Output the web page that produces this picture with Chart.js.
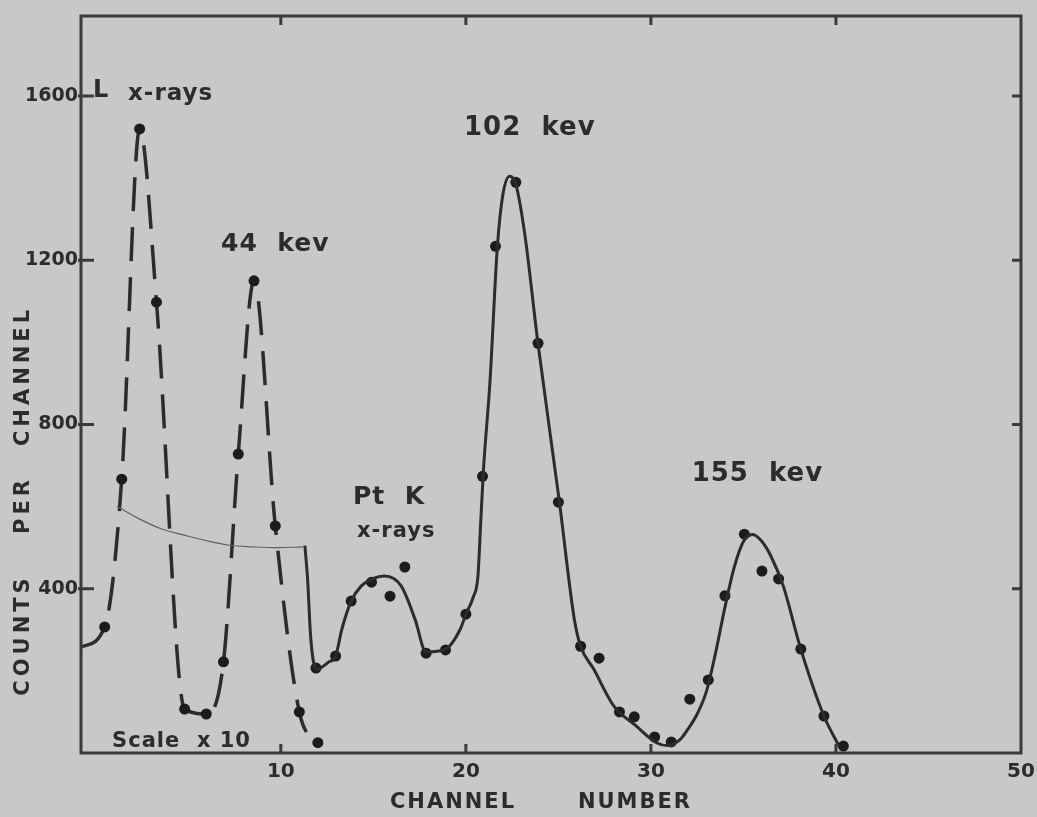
<!DOCTYPE html>
<html>
<head>
<meta charset="utf-8">
<script src="https://cdn.jsdelivr.net/npm/chart.js@4"></script>
<style>
html,body{margin:0;padding:0;background:#c8c8c8;overflow:hidden;}
canvas{display:block;}
</style>
</head>
<body>
<canvas id="c" width="1037" height="817"></canvas>
<script>
// ---------- data ----------
const channelTicks = [10, 20, 30, 40, 50];
const countTicks = [400, 800, 1200, 1600];

// L x-rays / 44 kev region (scale x 10), dashed curve through measured points
const lowX = [-0.8, 0.48, 1.4, 2.37, 3.28, 4.8, 5.97, 6.9, 7.7, 8.55, 9.7, 11.0, 12.0];
const lowY = [258, 307, 667, 1520, 1098, 107, 95, 222, 728, 1150, 553, 100, 25];

// thin background line under the scaled region
const bgX = [1.15, 2.4, 3.6, 5.0, 6.2, 7.2, 8.5, 9.9, 11.2];
const bgY = [601, 569, 545, 528, 515, 506, 502, 500, 502];

// smooth fitted curve (unscaled)
const fitX = [11.3, 11.45, 11.6, 11.75, 11.94, 12.6, 12.96, 13.3, 13.8, 14.35, 15.0, 15.6, 16.5, 17.25, 17.85, 18.9, 19.7, 20.0, 20.4, 20.65, 20.8, 20.95, 21.3, 21.7, 22.0, 22.37, 22.7, 23.17, 23.9, 25.05, 25.86, 26.2, 26.9, 28.0, 29.2, 30.3, 30.9, 31.6, 32.0, 32.5, 33.0, 33.5, 34.0, 34.5, 35.0, 35.5, 36.0, 36.5, 37.15, 38.1, 39.35, 40.16];
const fitY = [505, 420, 290, 225, 204, 222, 236, 302, 370, 407, 425, 431, 407, 326, 246, 253, 302, 338, 380, 430, 560, 690, 903, 1232, 1360, 1405, 1385, 1268, 996, 613, 326, 260, 205, 114, 66, 25, 18, 34, 58, 95, 150, 245, 355, 452, 515, 532, 515, 478, 407, 253, 90, 17];

// measured counts per channel (unscaled)
const ptX = [11.9, 12.96, 13.8, 14.9, 15.9, 16.7, 17.85, 18.9, 20.0, 20.9, 21.6, 22.7, 23.9, 25.0, 26.2, 27.2, 28.3, 29.1, 30.2, 31.1, 32.1, 33.1, 34.0, 35.05, 36.0, 36.9, 38.1, 39.35, 40.4];
const ptY = [207, 236, 370, 416, 382, 453, 243, 251, 338, 674, 1234, 1390, 998, 611, 260, 231, 100, 88, 39, 27, 131, 178, 383, 533, 443, 424, 253, 90, 17];

// text annotations (data coordinates: left edge, baseline)
const notes = [
  {t: 'L', x: -0.15, y: 1598, s: 24},
  {t: 'x-rays', x: 1.74, y: 1590, s: 23},
  {t: '44  kev', x: 6.77, y: 1223, s: 25},
  {t: '102  kev', x: 19.9, y: 1505, s: 26},
  {t: 'Pt  K', x: 13.9, y: 606, s: 25},
  {t: 'x-rays', x: 14.12, y: 526, s: 21},
  {t: '155  kev', x: 32.2, y: 662, s: 26},
  {t: 'Scale  x 10', x: 0.88, y: 15, s: 21}
];

// ---------- styles ----------
const BG = '#c8c8c8';
const INK = '#2c2c2c';
const FONT = "'DejaVu Sans', 'Liberation Sans', sans-serif";

const zip = (xs, ys) => xs.map((x, i) => ({x: x, y: ys[i]}));

const paperPlugin = {
  id: 'paper',
  beforeDraw(chart) {
    const c = chart.ctx;
    c.save();
    c.fillStyle = BG;
    c.fillRect(0, 0, chart.width, chart.height);
    c.restore();
  },
  afterDraw(chart) {
    const c = chart.ctx;
    const a = chart.chartArea;
    const xs = chart.scales.x, ys = chart.scales.y;
    c.save();
    // frame
    c.strokeStyle = '#3a3a3a';
    c.lineWidth = 3;
    c.strokeRect(a.left, a.top, a.right - a.left, a.bottom - a.top);
    // inward ticks
    c.beginPath();
    channelTicks.forEach(v => {
      const px = xs.getPixelForValue(v);
      if (px < a.right - 4) {
        c.moveTo(px, a.bottom); c.lineTo(px, a.bottom - 9);
        c.moveTo(px, a.top); c.lineTo(px, a.top + 9);
      }
    });
    countTicks.forEach(v => {
      const py = ys.getPixelForValue(v);
      c.moveTo(a.left - 3, py); c.lineTo(a.left + 13, py);
      c.moveTo(a.right, py); c.lineTo(a.right - 9, py);
    });
    c.stroke();

    // annotations
    c.fillStyle = INK;
    c.textBaseline = 'alphabetic';
    c.textAlign = 'left';
    notes.forEach(n => {
      c.font = 'bold ' + n.s + 'px ' + FONT;
      c.letterSpacing = '1px';
      c.fillText(n.t, xs.getPixelForValue(n.x), ys.getPixelForValue(n.y));
    });

    // x axis title
    c.font = 'bold 21px ' + FONT;
    c.letterSpacing = '2px';
    c.textBaseline = 'middle';
    c.textAlign = 'center';
    c.fillText('CHANNEL', 453, 803);
    c.fillText('NUMBER', 635, 803);

    // y axis title
    c.save();
    c.translate(24, 0);
    c.rotate(-Math.PI / 2);
    c.letterSpacing = '4px';
    c.fillText('COUNTS', -635, 0);
    c.fillText('PER', -505, 0);
    c.fillText('CHANNEL', -376, 0);
    c.restore();
    c.restore();
  }
};

new Chart(document.getElementById('c'), {
  type: 'line',
  data: {
    datasets: [
      {
        data: zip(bgX, bgY),
        borderColor: '#606060',
        borderWidth: 1.2,
        pointRadius: 0,
        tension: 0.4
      },
      {
        data: zip(lowX, lowY),
        borderColor: INK,
        borderWidth: 3.5,
        borderDash: [34, 16],
        cubicInterpolationMode: 'monotone',
        pointRadius: ctx => ctx.dataIndex === 0 ? 0 : 5.5,
        pointBackgroundColor: '#1c1c1c',
        pointBorderWidth: 0
      },
      {
        data: zip(fitX, fitY),
        borderColor: INK,
        borderWidth: 3,
        cubicInterpolationMode: 'monotone',
        pointRadius: 0
      },
      {
        data: zip(ptX, ptY),
        showLine: false,
        pointRadius: 5.5,
        pointBackgroundColor: '#1c1c1c',
        pointBorderWidth: 0
      }
    ]
  },
  options: {
    responsive: false,
    animation: false,
    events: [],
    layout: {padding: {top: 16, right: 16, bottom: 0, left: 0}},
    plugins: {legend: {display: false}, tooltip: {enabled: false}, title: {display: false}},
    scales: {
      x: {
        type: 'linear',
        min: -0.8,
        max: 50,
        afterBuildTicks: s => { s.ticks = channelTicks.map(v => ({value: v})); },
        afterFit: s => { s.height = 64; s.paddingLeft = 0; s.paddingRight = 0; },
        grid: {display: false, drawTicks: false},
        border: {display: false},
        ticks: {
          autoSkip: false, maxRotation: 0, padding: 7,
          color: INK,
          font: {family: FONT, size: 20, weight: 'bold'},
          callback: v => String(v)
        }
      },
      y: {
        type: 'linear',
        min: 0,
        max: 1795,
        afterBuildTicks: s => { s.ticks = countTicks.map(v => ({value: v})); },
        afterFit: s => { s.width = 81; s.paddingTop = 0; s.paddingBottom = 0; },
        grid: {display: false, drawTicks: false},
        border: {display: false},
        ticks: {
          autoSkip: false, padding: 3,
          color: INK,
          font: {family: FONT, size: 19, weight: 'bold'},
          callback: v => String(v)
        }
      }
    }
  },
  plugins: [paperPlugin]
});
</script>
</body>
</html>
